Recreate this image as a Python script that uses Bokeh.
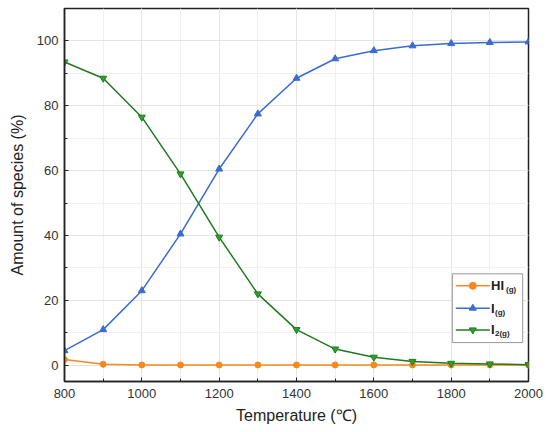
from bokeh.plotting import figure
from bokeh.models import SingleIntervalTicker, Range1d, Label
from bokeh.embed import file_html
from bokeh.resources import INLINE

temperature = [800, 900, 1000, 1100, 1200, 1300, 1400, 1500, 1600, 1700, 1800, 1900, 2000]
hi_g = [1.8, 0.3, 0.1, 0.1, 0.1, 0.1, 0.1, 0.1, 0.1, 0.1, 0.1, 0.1, 0.1]
i_g = [4.5, 11.0, 23.0, 40.5, 60.5, 77.5, 88.5, 94.5, 97.0, 98.5, 99.2, 99.5, 99.7]
i2_g = [93.5, 88.5, 76.5, 59.0, 39.5, 22.0, 11.0, 5.0, 2.5, 1.2, 0.6, 0.4, 0.2]

FONT = "Liberation Sans"
C_HI = "#F5891F"
C_I = "#3A6CCF"
C_I2_LINE = "#1F7A1F"
C_I2 = "#2EA02E"

p = figure(width=548, height=432, output_backend="svg", toolbar_location=None,
           x_range=Range1d(800, 2000), y_range=Range1d(-5, 110),
           min_border_left=64, min_border_right=20, min_border_top=8, min_border_bottom=51)
p.background_fill_color = "white"
p.border_fill_color = "white"
p.outline_line_color = "#222222"
p.outline_line_width = 1.5

p.xaxis.ticker = SingleIntervalTicker(interval=200, num_minor_ticks=2)
p.yaxis.ticker = SingleIntervalTicker(interval=20, num_minor_ticks=2)
for ax in (p.xaxis[0], p.yaxis[0]):
    ax.major_tick_in = 4
    ax.major_tick_out = 0
    ax.minor_tick_in = 3
    ax.minor_tick_out = 0
    ax.axis_line_color = "#222222"
    ax.axis_line_width = 1.5
    ax.major_tick_line_color = "#222222"
    ax.minor_tick_line_color = "#222222"
    ax.major_label_text_font = FONT
    ax.major_label_text_font_size = "13px"
    ax.major_label_text_color = "#333333"
    ax.axis_label_text_font = FONT
    ax.axis_label_text_font_size = "16px"
    ax.axis_label_text_font_style = "normal"
    ax.axis_label_text_color = "#222222"
p.xaxis.axis_label = "Temperature (℃)"
p.yaxis.axis_label = "Amount of species (%)"
p.xaxis.major_label_standoff = 7
p.yaxis.major_label_standoff = 6
p.xaxis.axis_label_standoff = 6
p.yaxis.axis_label_standoff = 8

p.xgrid.grid_line_color = "#e4e4e4"
p.ygrid.grid_line_color = "#e4e4e4"
p.xgrid.minor_grid_line_color = "#f0f0f0"
p.ygrid.minor_grid_line_color = "#f0f0f0"

p.line(temperature, hi_g, line_color=C_HI, line_width=1.5)
p.scatter(temperature, hi_g, marker="circle", size=6, fill_color=C_HI, line_color=C_HI)
p.line(temperature, i_g, line_color=C_I, line_width=1.5)
p.scatter(temperature, i_g, marker="triangle", size=7, fill_color=C_I, line_color=C_I)
p.line(temperature, i2_g, line_color=C_I2_LINE, line_width=1.5)
p.scatter(temperature, i2_g, marker="inverted_triangle", size=7, fill_color=C_I2, line_color=C_I2_LINE)

# legend (manual, to allow subscripts)
p.quad(left=[1803], right=[1985], bottom=[7.0], top=[28.2],
       fill_color="white", line_color="#999999", line_width=1)
leg_rows = [(24.5, C_HI, C_HI, "circle", "HI", "(g)"),
            (17.6, C_I, C_I, "triangle", "I", "(g)"),
            (10.9, C_I2_LINE, C_I2, "inverted_triangle", "I", "2(g)")]
for yv, lc, fc, mk, main, sub in leg_rows:
    p.line([1812, 1900], [yv, yv], line_color=lc, line_width=1.5)
    p.scatter([1856], [yv], marker=mk, size=7, fill_color=fc, line_color=lc)
    lab = Label(x=1903, y=yv, text=main, text_font=FONT, text_font_size="13px",
                text_font_style="bold", text_baseline="middle", text_color="#222222")
    p.add_layout(lab)
    off = 15 if main == "HI" else 4
    sl = Label(x=1903, y=yv, x_offset=off, y_offset=-4, text=sub, text_font=FONT,
               text_font_size="8px", text_font_style="bold", text_baseline="middle",
               text_color="#222222")
    p.add_layout(sl)

open("out.html", "w").write(file_html(p, INLINE))
